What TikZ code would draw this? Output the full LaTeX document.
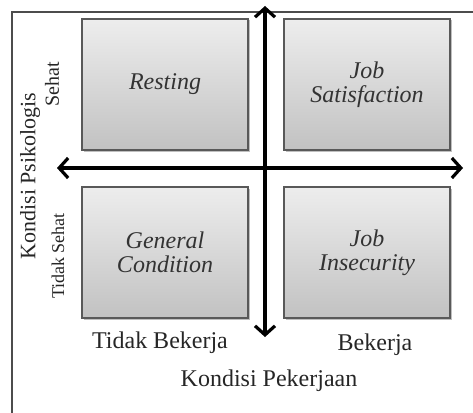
\documentclass[tikz,border=0pt]{standalone}
\usepackage{fontspec}
\setmainfont{Liberation Serif}
\usetikzlibrary{arrows.meta,shadows}

\begin{document}
\begin{tikzpicture}[x=1pt,y=-1pt]
	\tikzstyle{quad} = [draw=black!65, line width=1.4pt, minimum width=166pt, minimum height=131pt, inner sep=0pt,
	  top color=black!7, bottom color=black!24, align=center, text=black!80,
	  font=\fontsize{24}{24}\selectfont\itshape,
	  drop shadow={shadow xshift=1.5pt, shadow yshift=-1.5pt, opacity=0.25, fill=black}];
	\tikzstyle{axis} = [line width=3.6pt, -{Straight Barb[length=9pt, width=20pt, line width=3.2pt]}];
	\tikzstyle{lbl} = [text=black!85, inner sep=0pt];
	
	\useasboundingbox (0,0) rectangle (473,412);
	\draw[black!70, line width=1.4pt] (12,420) -- (12,12) -- (480,12);
	
	\node[quad] (rest) at (165,84.5) {Resting};
	\node[quad] (sat) at (367,84.5) {Job\\Satisfaction};
	\node[quad] (gen) at (165,252.5) {General\\Condition};
	\node[quad] (insec) at (367,252.5) {Job\\Insecurity};
	
	\coordinate (top) at (265,6);
	\coordinate (bot) at (265,337);
	\coordinate (left) at (57,168);
	\coordinate (right) at (463,168);
	\coordinate (mid) at (265,168);
	
	\draw[axis] (mid) -- (top);
	\draw[axis] (mid) -- (bot);
	\draw[axis] (mid) -- (left);
	\draw[axis] (mid) -- (right);
	
	\node[lbl, font=\fontsize{24}{24}\selectfont] (tb) at (160,343) {Tidak Bekerja};
	\node[lbl, font=\fontsize{24}{24}\selectfont] (bk) at (375,345) {Bekerja};
	\node[lbl, font=\fontsize{24}{24}\selectfont] (kp) at (269,381) {Kondisi Pekerjaan};
	
	\node[lbl, rotate=90, font=\fontsize{20}{20}\selectfont] (sh) at (52,84) {Sehat};
	\node[lbl, rotate=90, font=\fontsize{18}{18}\selectfont] (ts) at (58,256) {Tidak Sehat};
	\node[lbl, rotate=90, font=\fontsize{22}{22}\selectfont] (psi) at (30,176) {Kondisi Psikologis};
\end{tikzpicture}
\end{document}
